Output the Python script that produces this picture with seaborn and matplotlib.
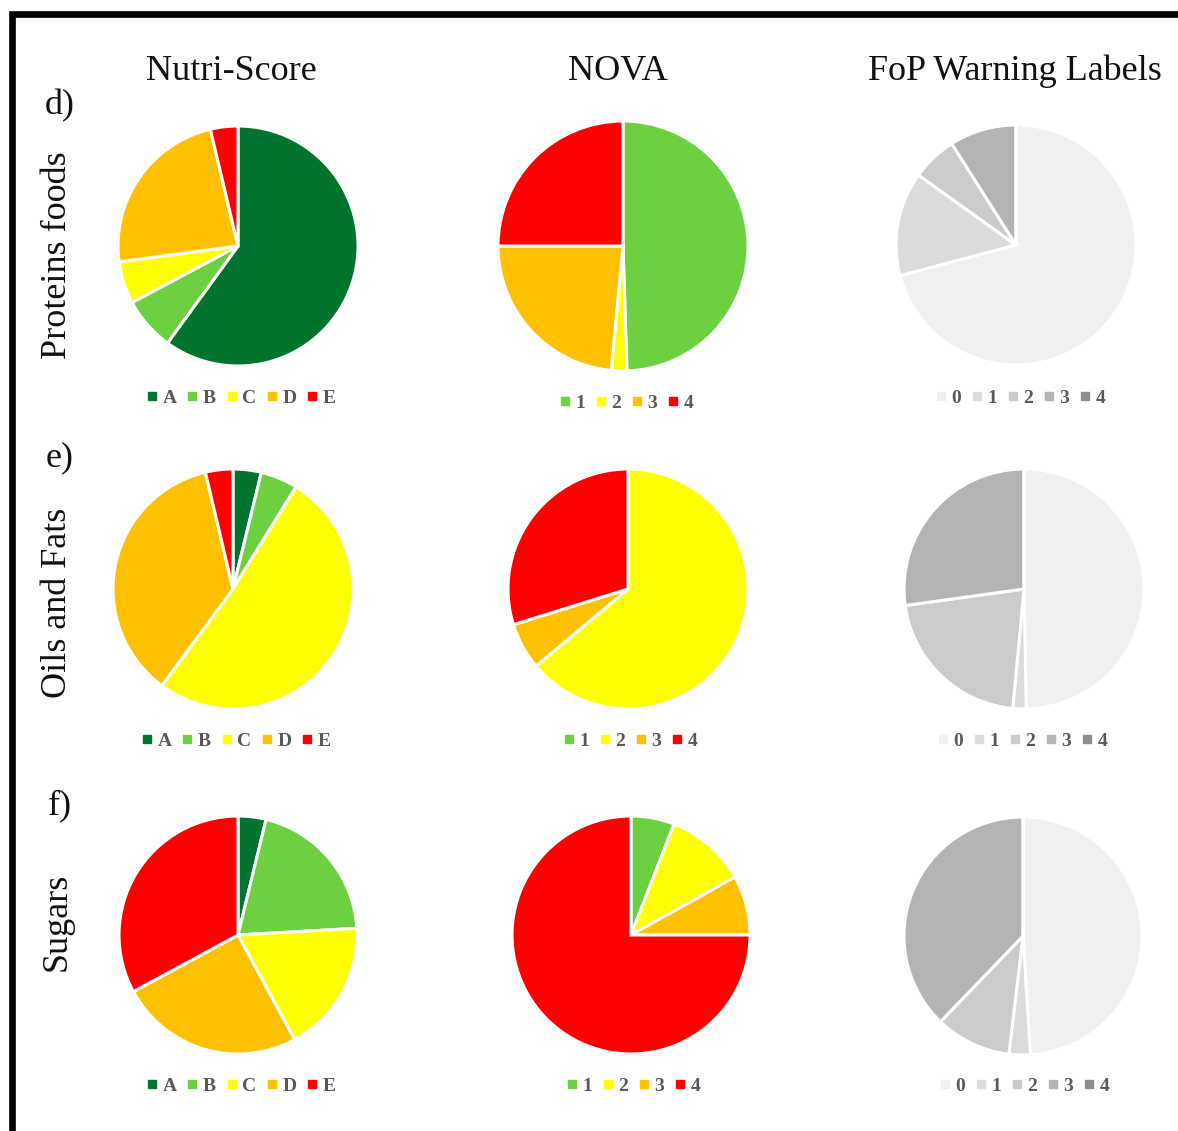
import matplotlib
matplotlib.use("Agg")
import matplotlib.pyplot as plt
import seaborn as sns
from matplotlib.lines import Line2D
from matplotlib.patches import Rectangle

sns.set_theme(style="white")
plt.rcParams["font.family"] = ["Liberation Serif", "DejaVu Serif"]

# Category labels per labelling system
nutri_labels = ["A", "B", "C", "D", "E"]
nova_labels = ["1", "2", "3", "4"]
fop_labels = ["0", "1", "2", "3", "4"]

# Share of products (%) per food group
nutri_proteins = [60.0, 7.2, 5.7, 23.4, 3.7]
nova_proteins = [49.5, 2.0, 23.5, 25.0]
fop_proteins = [70.9, 14.0, 6.1, 9.0, 0.0]

nutri_oils = [3.8, 5.0, 51.3, 36.2, 3.7]
nova_oils = [0.0, 63.9, 6.3, 29.8]
fop_oils = [49.7, 1.8, 21.3, 27.2, 0.0]

nutri_sugars = [3.8, 20.3, 18.0, 25.0, 32.9]
nova_sugars = [5.9, 11.0, 8.1, 75.0]
fop_sugars = [49.0, 2.9, 10.3, 37.8, 0.0]

column_titles = ["Nutri-Score", "NOVA", "FoP Warning Labels"]
row_titles = ["Proteins foods", "Oils and Fats", "Sugars"]
row_tags = ["d)", "e)", "f)"]

nutri_colors = ["#00732E", "#6CD040", "#FFFF00", "#FFC000", "#FF0000"]
nova_colors = ["#6CD040", "#FFFF00", "#FFC000", "#FF0000"]
fop_colors = ["#F0F0F0", "#DCDCDC", "#CBCBCB", "#B4B4B4", "#8E8E8E"]

W, H = 1178, 1131
fig = plt.figure(figsize=(W / 100, H / 100), dpi=100)

# Open frame on the left and top edges
fig.add_artist(Rectangle((11.5 / W, -0.1), 1.2, 1 + 0.1 - 14.0 / H,
                         transform=fig.transFigure, fill=False,
                         edgecolor="black", linewidth=4.8, clip_on=False))

rows = [
    (nutri_proteins, nova_proteins, fop_proteins),
    (nutri_oils, nova_oils, fop_oils),
    (nutri_sugars, nova_sugars, fop_sugars),
]
labels_set = [nutri_labels, nova_labels, fop_labels]
colors_set = [nutri_colors, nova_colors, fop_colors]

# pie centres and radii (pixels) for each row/column
centers = [
    [(238, 246, 120), (623, 246, 125), (1016, 245, 120)],
    [(233, 589, 120), (628, 589, 120), (1024, 589, 120)],
    [(238, 935, 119), (631, 935, 119), (1023, 936, 119)],
]
legend_pos = [
    [(241, 398), (626, 403), (1020, 398)],
    [(236, 741), (630, 741), (1022, 741)],
    [(241, 1086), (633, 1086), (1024, 1086)],
]

for r, row in enumerate(rows):
    for c, vals in enumerate(row):
        cx, cy, R = centers[r][c]
        ax = fig.add_axes([(cx - R) / W, 1 - (cy + R) / H, 2 * R / W, 2 * R / H])
        ax.pie(vals, colors=colors_set[c], startangle=90, counterclock=False,
               wedgeprops=dict(edgecolor="white", linewidth=2.2))
        ax.set_xlim(-1.0, 1.0)
        ax.set_ylim(-1.0, 1.0)
        ax.set_aspect("equal")
        ax.axis("off")

        handles = [Line2D([0], [0], marker="s", linestyle="none", markersize=6,
                          markerfacecolor=col, markeredgecolor=col)
                   for col in colors_set[c]]
        lx, ly = legend_pos[r][c]
        fig.legend(handles, labels_set[c], loc="center",
                   bbox_to_anchor=(lx / W, 1 - ly / H), ncol=len(handles),
                   frameon=False, handlelength=0.6, handletextpad=0.25,
                   columnspacing=0.5, borderaxespad=0,
                   prop=dict(family="Liberation Serif", weight="bold", size=14),
                   labelcolor="#595959")

# Column headers
for x, t in zip([231, 618, 1015], column_titles):
    fig.text(x / W, 1 - 71 / H, t, ha="center", va="center", fontsize=26,
             color="#111111")

# Row tags and rotated row titles
for y, t in zip([106, 458, 806], row_tags):
    fig.text(60 / W, 1 - y / H, t, ha="center", va="center", fontsize=26,
             color="#111111")
for y, t in zip([255, 603, 922], row_titles):
    fig.text(57 / W, 1 - y / H, t, ha="center", va="center", rotation=90,
             fontsize=26, color="#111111")

fig.savefig("out.png", dpi=100)
